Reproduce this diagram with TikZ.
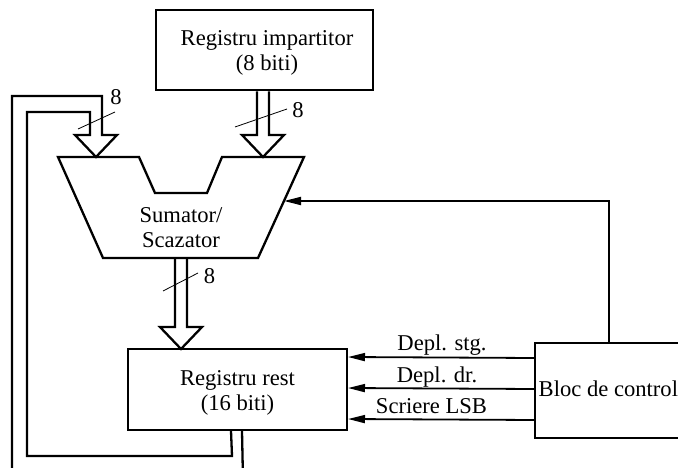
\documentclass[tikz,border=0pt]{standalone}
\usepackage{fontspec}
\setmainfont{Liberation Serif}
\usetikzlibrary{arrows.meta,calc}
\newcommand{\hollowbus}[2]{% #1 top point, #2 tip point (same x)
  \draw[bus] ($(#1)+(-6,0)$) -- ($(#2)+(-6,-22)$) -- ($(#2)+(-21,-22)$) -- (#2)
    -- ($(#2)+(21,-22)$) -- ($(#2)+(6,-22)$) -- ($(#1)+(6,0)$);}
\begin{document}
\begin{tikzpicture}[x=1pt,y=-1pt,
  box/.style={draw, line width=2pt, align=center, inner sep=0pt, font=\fontsize{22.6}{25}\selectfont},
  bus/.style={line width=2.3pt, line join=miter},
  sig/.style={line width=1.8pt, -{Triangle[length=17pt,width=8pt]}},
  tick/.style={line width=0.8pt},
  lbl/.style={font=\fontsize{22.6}{25}\selectfont, inner sep=0pt}]
\clip (0,0) rectangle (678,468);
% blocks
\node[box, line width=2.8pt, minimum width=217pt, minimum height=80pt] (imp) at (264.5,50) {};
\node[lbl, align=center] (impt) at (267,53) {Registru impartitor\\(8 biti)};
\node[box, minimum width=219pt, minimum height=81pt] (rest) at (237.5,389.5) {};
\node[lbl, align=center] (restt) at (237.5,392.5) {Registru rest\\(16 biti)};
\node[box, anchor=north west, minimum height=95pt, minimum width=160pt] (bloc) at (534,342) {};
\node[lbl, anchor=base west] (bloct) at (538.5,396) {Bloc de control};
% adder / subtractor
\coordinate (tl) at (58,157);
\coordinate (tr) at (304,157);
\coordinate (br) at (258,258);
\coordinate (bl) at (103,258);
\draw[line width=2.3pt, line join=miter] (tl) -- (139,157) -- (155,193) -- (207,193) -- (222,157) -- (tr) -- (br) -- (bl) -- cycle;
\node[lbl, align=center] (sum) at (181,228) {Sumator/\\Scazator};
% buses
\coordinate (rtip) at (263,157);
\hollowbus{rtip |- imp.south}{rtip}
\coordinate (otip) at (181,349);
\hollowbus{otip |- bl}{otip}
% feedback from remainder register
\coordinate (ltip) at (96,157);
\draw[bus] ($(rest.south west)+(104,0)$) -- (232,456) -- (27,456) -- (27,112) -- (90,112) -- ($(ltip)+(-6,-22)$) -- ($(ltip)+(-21,-22)$) -- (ltip) -- ($(ltip)+(21,-22)$) -- ($(ltip)+(6,-22)$) -- (102,96) -- (12,96) -- (12,480);
\draw[bus] ($(rest.south west)+(115,0)$) -- (243,480);
% bus width ticks
\draw[tick] (78,129) -- (115,112);
\node[lbl] (n1) at (116,97) {8};
\draw[tick] (235,127) -- (287,109);
\node[lbl] (n2) at (298,110) {8};
\draw[tick] (163,291) -- (198,273);
\node[lbl] (n3) at (209.5,276.5) {8};
% control signals
\coordinate (cin) at (284,201);
\draw[sig] ($(bloc.north west)+(75,0)$) |- (cin);
\draw[sig] ($(bloc.north west)+(0,16)$) -- ($(rest.north east)+(0,9)$);
\draw[sig] ($(bloc.north west)+(0,47)$) -- ($(rest.north east)+(0,40)$);
\draw[sig] ($(bloc.north west)+(0,78)$) -- ($(rest.north east)+(0,71)$);
\node[lbl, anchor=base] (l1) at (442,350) {Depl. stg.};
\node[lbl, anchor=base] (l2) at (437,382) {Depl. dr.};
\node[lbl, anchor=base] (l3) at (431.5,413) {Scriere LSB};
\end{tikzpicture}
\end{document}
